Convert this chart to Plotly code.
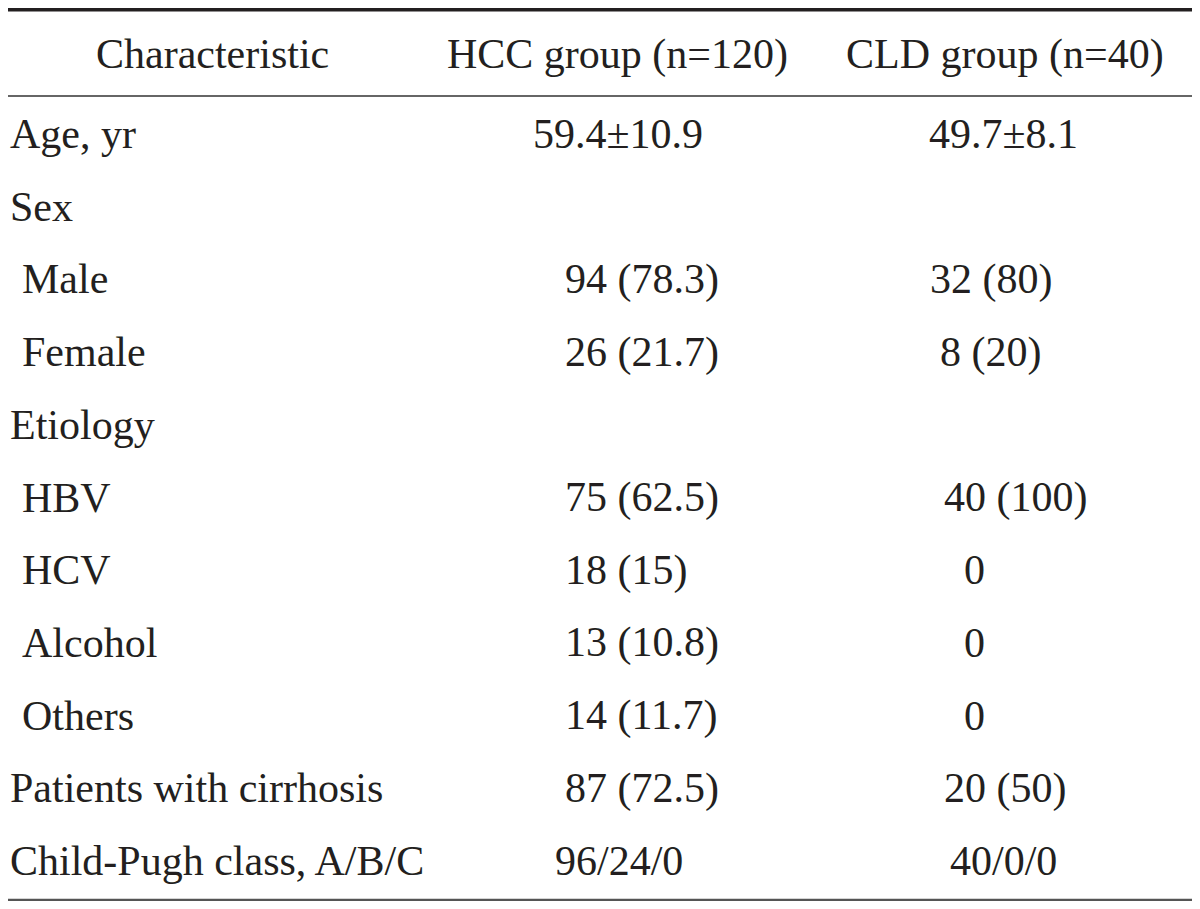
import plotly.graph_objects as go

# ---- data ----
headers = ["Characteristic", "HCC group (n=120)", "CLD group (n=40)"]
characteristics = ["Age, yr", "Sex", "Male", "Female", "Etiology", "HBV", "HCV",
                   "Alcohol", "Others", "Patients with cirrhosis", "Child-Pugh class, A/B/C"]
is_subitem = [False, False, True, True, False, True, True, True, True, False, False]
hcc_values = ["59.4\u00b110.9", "", "94 (78.3)", "26 (21.7)", "", "75 (62.5)", "18 (15)",
              "13 (10.8)", "14 (11.7)", "87 (72.5)", "96/24/0"]
cld_values = ["49.7\u00b18.1", "", "32 (80)", "8 (20)", "", "40 (100)", "0",
              "0", "0", "20 (50)", "40/0/0"]

# ---- layout / style (not data) ----
PAGE_OFFSET = 8                    # browser body margin
W, H = 1200, 909                   # target picture size
FIG_W, FIG_H = W - PAGE_OFFSET, H - PAGE_OFFSET
ROW0, PITCH = 134.0, 72.7          # pixel centre of first body row and row pitch
def px_to_row(p):
    return (p - ROW0) / PITCH

FONT = dict(family="Liberation Serif, Times New Roman, serif", size=42, color="#231f20")
header_x = [212, 617, 1005]
indent = {False: PAGE_OFFSET, True: 20}
hcc_left = [531, None, 563, 563, None, 563, 563, 563, 563, 563, 553]
cld_left = [927, None, 928, 938, None, 942, 962, 962, 962, 942, 948]

fig = go.Figure()
fig.add_trace(go.Scatter(x=[PAGE_OFFSET, W], y=[px_to_row(PAGE_OFFSET), px_to_row(H)],
                         mode="markers", marker=dict(opacity=0),
                         hoverinfo="skip", showlegend=False))

ann = []
hy = px_to_row(54)
for h, x in zip(headers, header_x):
    ann.append(dict(x=x, y=hy, text=h, xanchor="center", yanchor="middle"))
for i, (c, sub) in enumerate(zip(characteristics, is_subitem)):
    ann.append(dict(x=indent[sub], y=i, text=c, xanchor="left", yanchor="middle"))
for i, v in enumerate(hcc_values):
    if v:
        ann.append(dict(x=hcc_left[i], y=i, text=v, xanchor="left", yanchor="middle"))
for i, v in enumerate(cld_values):
    if v:
        ann.append(dict(x=cld_left[i], y=i, text=v, xanchor="left", yanchor="middle"))
for a in ann:
    a.update(xref="x", yref="y", showarrow=False, font=FONT)

shapes = [
    dict(type="line", xref="x", yref="y", x0=PAGE_OFFSET, x1=W,
         y0=px_to_row(9.8), y1=px_to_row(9.8), line=dict(color="#231f20", width=3.5)),
    dict(type="line", xref="x", yref="y", x0=PAGE_OFFSET, x1=W,
         y0=px_to_row(96), y1=px_to_row(96), line=dict(color="#333333", width=1.5)),
    dict(type="line", xref="x", yref="y", x0=PAGE_OFFSET, x1=W,
         y0=px_to_row(899.8), y1=px_to_row(899.8), line=dict(color="#555555", width=2.2)),
]

fig.update_layout(
    width=FIG_W, height=FIG_H, margin=dict(l=0, r=0, t=0, b=0),
    paper_bgcolor="white", plot_bgcolor="white",
    annotations=ann, shapes=shapes, showlegend=False,
    xaxis=dict(range=[PAGE_OFFSET, W], visible=False, fixedrange=True),
    yaxis=dict(range=[px_to_row(H), px_to_row(PAGE_OFFSET)], visible=False, fixedrange=True),
)
fig.write_html("out.html")
